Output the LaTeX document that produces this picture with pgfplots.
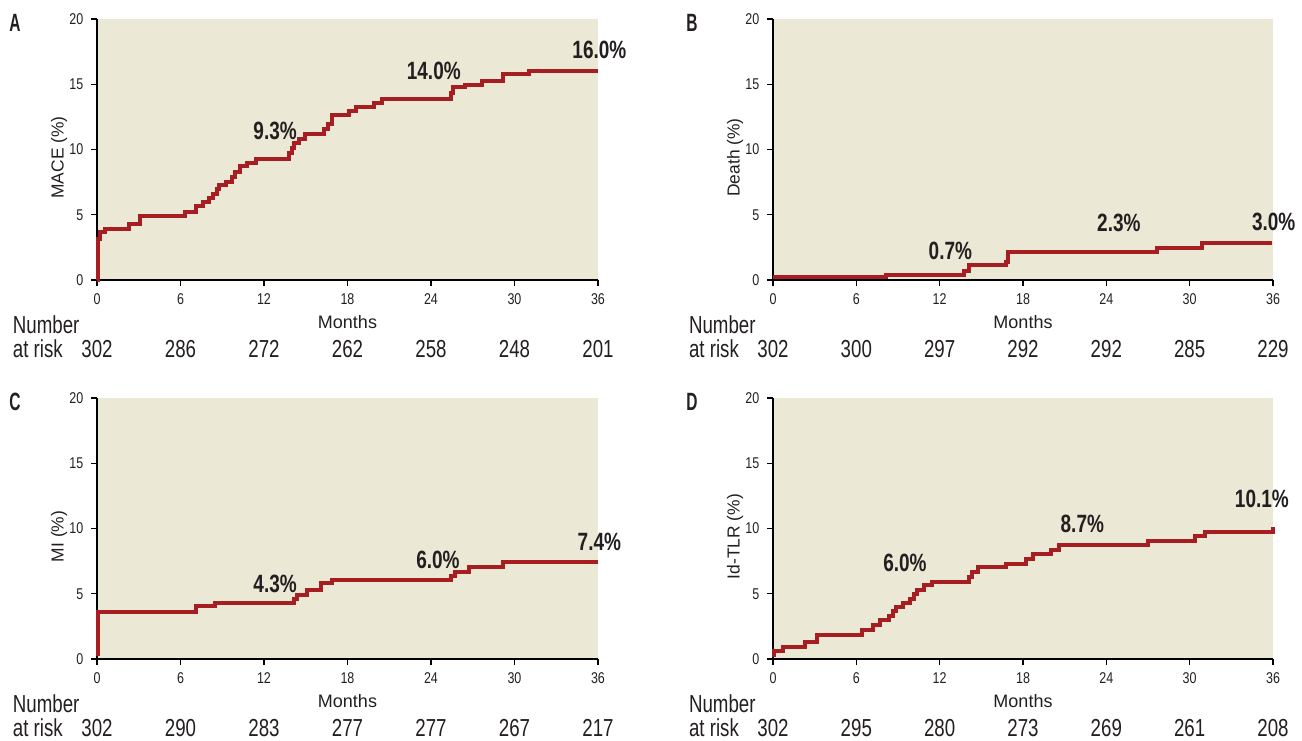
\documentclass[border=0pt]{standalone}
\usepackage{fontspec}
\setmainfont{Liberation Sans}
\newfontfamily\narrowfont{Liberation Sans}[FakeStretch=0.62]
\newfontfamily\condfont{Liberation Sans}[FakeStretch=0.76]
\newfontfamily\semifont{Liberation Sans}[FakeStretch=0.8]
\usepackage{pgfplots}
\pgfplotsset{compat=1.18}
\definecolor{bgc}{HTML}{ECE8D6}
\definecolor{kmred}{HTML}{A61E22}
\definecolor{txt}{HTML}{231F20}
\pgfplotsset{
  kmaxis/.style={
    scale only axis, width=250.5pt, height=130.5pt,
    xmin=0, xmax=36, ymin=0, ymax=20,
    axis lines=left, axis line style={-, black, line width=0.7pt},
    axis background/.style={fill=bgc},
    xtick={0,6,...,36}, ytick={0,5,...,20},
    tick align=outside, major tick length=3pt,
    tick style={black, line width=0.6pt},
    /pgf/number format/assume math mode=true,
    ticklabel style={font=\semifont\fontsize{7.8}{8}\selectfont, text=txt},
    xticklabel style={yshift=-0.3pt},
    yticklabel style={xshift=-0.3pt},
    clip=false,
    xlabel={Months},
    xlabel style={at={(axis description cs:0.5,0)}, anchor=center, yshift=-21pt, font=\fontsize{9}{10}\selectfont, text=txt},
    ylabel style={at={(axis description cs:0,0.5)}, anchor=center, yshift=19pt, xshift=-4pt, font=\fontsize{8.7}{10}\selectfont, text=txt},
  },
  km/.style={kmred, line width=2pt, const plot, mark=none},
}
\tikzset{
  pct/.style={font=\condfont\bfseries\fontsize{12.5}{14}\selectfont, text=txt},
  risk/.style={font=\condfont\fontsize{12.3}{14}\selectfont, text=txt},
  plab/.style={font=\narrowfont\bfseries\fontsize{12.5}{13}\selectfont, text=txt},
}
\newcommand{\riskrow}[7]{%
  \node[risk, anchor=west] at (axis cs:-6.55,-3.45) {Number};
  \node[risk, anchor=west] at (axis cs:-6.55,-5.3) {at risk};
  \node[risk] at (axis cs:0,-5.3) {#1};
  \node[risk] at (axis cs:6,-5.3) {#2};
  \node[risk] at (axis cs:12,-5.3) {#3};
  \node[risk] at (axis cs:18,-5.3) {#4};
  \node[risk] at (axis cs:24,-5.3) {#5};
  \node[risk] at (axis cs:30,-5.3) {#6};
  \node[risk] at (axis cs:36,-5.3) {#7};
}
\begin{document}
\begin{tikzpicture}
\path[use as bounding box] (0,0) rectangle (651pt,-370pt);
% ---------------- A ----------------
\begin{axis}[kmaxis, at={(48.5pt,-140pt)}, anchor=south west, ylabel={MACE (\%)}]
\addplot[km] coordinates {
(0,0) (0.05,3.15) (0.2,3.67) (0.6,3.9) (2.33,4.3) (3.08,4.9) (6.33,5.23) (7.08,5.64)
(7.6,5.97) (8.07,6.28) (8.37,6.6) (8.6,6.95) (8.8,7.26) (9.26,7.54) (9.7,7.9)
(9.95,8.28) (10.25,8.72) (10.8,8.97) (11.41,9.3) (13.8,9.7) (13.98,10.08) (14.13,10.5)
(14.55,10.8) (14.94,11.15) (16.28,11.54) (16.58,11.92) (16.88,12.64) (18.08,12.95)
(18.61,13.28) (19.93,13.6) (20.47,13.9) (25.46,14.3) (25.6,14.77) (26.44,14.97)
(27.64,15.26) (29.19,15.8) (31.07,16.0) (36,16.0)
};
\node[pct] at (axis cs:12.8,11.4) {9.3\%};
\node[pct] at (axis cs:24.2,16.05) {14.0\%};
\node[pct] at (axis cs:36.1,17.6) {16.0\%};
\riskrow{302}{286}{272}{262}{258}{248}{201}
\end{axis}
\node[plab] at (7.5pt,-11.5pt) {A};
% ---------------- B ----------------
\begin{axis}[kmaxis, width=250pt, at={(386.5pt,-140pt)}, anchor=south west, ylabel={Death (\%)}]
\addplot[km] coordinates {
(0,0.2) (8.12,0.41) (13.73,0.66) (14.12,1.12) (16.79,1.36) (16.94,2.17)
(27.67,2.43) (30.88,2.81) (35.9,2.81)
};
\node[pct] at (axis cs:12.77,2.2) {0.7\%};
\node[pct] at (axis cs:24.9,4.4) {2.3\%};
\node[pct] at (axis cs:36.05,4.48) {3.0\%};
\riskrow{302}{300}{297}{292}{292}{285}{229}
\end{axis}
\node[plab] at (346pt,-11.5pt) {B};
% ---------------- C ----------------
\begin{axis}[kmaxis, at={(48.5pt,-329.5pt)}, anchor=south west, ylabel={MI (\%)}]
\addplot[km] coordinates {
(0.05,0.25) (0.05,3.64) (7.08,4.03) (8.46,4.33) (14.19,4.6) (14.34,4.92) (15.1,5.3)
(16.13,5.82) (16.88,6.03) (25.46,6.33) (25.7,6.69) (26.74,7.05) (29.19,7.45) (36,7.45)
};
\node[pct] at (axis cs:12.8,5.72) {4.3\%};
\node[pct] at (axis cs:24.5,7.6) {6.0\%};
\node[pct] at (axis cs:36.1,8.97) {7.4\%};
\riskrow{302}{290}{283}{277}{277}{267}{217}
\end{axis}
\node[plab] at (7.5pt,-201pt) {C};
% ---------------- D ----------------
\begin{axis}[kmaxis, width=250pt, at={(386.5pt,-329.5pt)}, anchor=south west, ylabel={Id-TLR (\%)}]
\addplot[km] coordinates {
(0.05,0.13) (0.05,0.59) (0.69,0.95) (2.28,1.28) (3.18,1.87) (6.38,2.26) (7.19,2.62)
(7.67,3.0) (8.33,3.33) (8.63,3.67) (8.87,3.97) (9.38,4.28) (9.86,4.62) (10.13,4.95)
(10.37,5.26) (10.88,5.64) (11.48,5.9) (14.12,6.28) (14.33,6.67) (14.78,7.05)
(16.79,7.31) (18.23,7.69) (18.74,8.03) (20.02,8.38) (20.62,8.72) (26.98,9.05)
(30.37,9.41) (31.12,9.74) (35.97,10.13)
};
\node[pct] at (axis cs:9.5,7.36) {6.0\%};
\node[pct] at (axis cs:22.27,10.33) {8.7\%};
\node[pct] at (axis cs:35.2,12.3) {10.1\%};
\riskrow{302}{295}{280}{273}{269}{261}{208}
\end{axis}
\node[plab] at (346pt,-201pt) {D};
\end{tikzpicture}
\end{document}
